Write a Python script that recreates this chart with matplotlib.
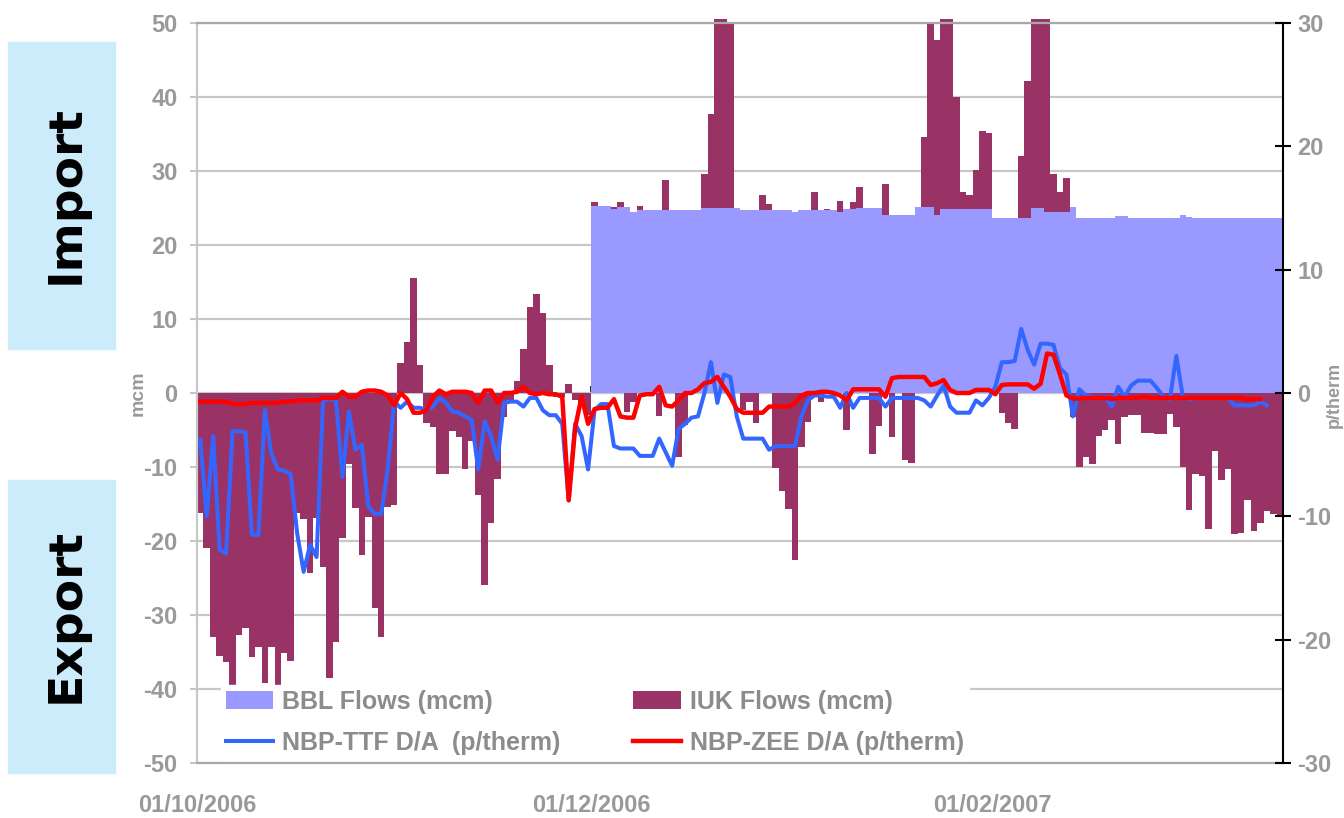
import numpy as np
import pandas as pd
import matplotlib
matplotlib.use("Agg")
import matplotlib.pyplot as plt
import matplotlib.dates as mdates
from matplotlib.patches import Rectangle

plt.rcParams['font.family'] = ['Liberation Sans', 'DejaVu Sans']
plt.rcParams['font.weight'] = 'bold'
plt.rcParams['axes.unicode_minus'] = False

# ---------------- data (daily, from 01/10/2006) ----------------
start_date = "2006-10-01"
bbl_start_date = "2006-12-01"

iuk_flows = [
    -16.2, -21.0, -33.0, -35.5, -36.3, -40.5, -32.7, -31.8, -35.7, -34.3,
    -39.2, -34.3, -39.7, -35.1, -36.2, -16.2, -17.0, -24.3, -16.9, -23.5,
    -38.5, -33.6, -19.6, -9.6, -15.5, -21.9, -16.7, -29.0, -33.0, -15.4,
    -15.1, 4.0, 6.9, 15.5, 3.8, -4.1, -4.6, -11.0, -11.0, -5.1,
    -5.9, -10.3, -6.5, -13.8, -25.9, -17.6, -11.6, -3.2, -1.0, 1.6,
    5.9, 11.6, 13.4, 10.8, 3.8, -0.5, -0.5, 1.2, -1.0, -1.5,
    -3.0, 25.8, 0.0, 0.0, 25.1, 25.8, -2.5, -1.2, 25.3, 0.0,
    0.0, -3.1, 28.8, 0.0, -8.6, -4.3, 0.0, 0.0, 29.6, 37.7,
    50.5, 50.5, 49.8, 25.0, -2.3, -1.2, -4.0, 26.7, 25.6, -10.2,
    -13.3, -15.7, -22.5, -7.3, -3.9, 27.1, -1.2, 24.9, 0.0, 25.9,
    -5.0, 25.8, 27.8, 0.0, -8.2, -4.5, 28.3, -5.9, 0.0, -9.0,
    -9.5, 25.1, 34.6, 50.2, 47.7, 50.5, 50.5, 40.0, 27.2, 26.8,
    30.2, 35.4, 35.2, 0.0, -2.7, -4.1, -4.8, 32.0, 42.2, 50.5,
    50.5, 50.5, 29.6, 27.1, 29.0, -3.2, -10.0, -8.7, -9.6, -5.8,
    -5.0, -3.6, -6.9, -3.2, -3.0, -3.0, -5.4, -5.4, -5.6, -5.6,
    -2.9, -4.6, -10.0, -15.8, -10.9, -11.2, -18.4, -7.9, -11.7, -10.3,
    -19.1, -18.9, -14.4, -18.7, -17.6, -16.0, -16.4, -16.5,
]

bbl_flows = [
    25.3, 25.3, 25.3, 24.8, 25.1, 25.1, 24.4, 24.7, 24.7, 24.7,
    24.7, 24.7, 24.7, 24.7, 24.7, 24.7, 24.7, 25.0, 25.0, 25.0,
    25.0, 25.0, 25.0, 24.7, 24.7, 24.7, 24.7, 24.7, 24.7, 24.7,
    24.7, 24.5, 24.7, 24.7, 24.7, 24.7, 24.7, 24.7, 24.4, 24.9,
    24.9, 25.0, 25.0, 25.0, 25.0, 24.1, 24.1, 24.1, 24.1, 24.1,
    25.1, 25.1, 25.1, 24.0, 24.9, 24.9, 24.9, 24.9, 24.9, 24.9,
    24.9, 24.9, 23.7, 23.7, 23.7, 23.7, 23.7, 23.7, 25.0, 25.0,
    24.5, 24.5, 24.5, 24.5, 25.1, 23.7, 23.7, 23.7, 23.7, 23.7,
    23.7, 23.9, 23.9, 23.7, 23.7, 23.7, 23.7, 23.7, 23.7, 23.7,
    23.7, 24.0, 23.8, 23.7, 23.7, 23.7, 23.7, 23.7, 23.7, 23.7,
    23.7, 23.7, 23.7, 23.7, 23.7, 23.7, 23.7,
]

ttf_spread = [
    -3.8, -10.0, -3.5, -12.7, -13.0, -3.1, -3.1, -3.2, -11.5, -11.5,
    -1.4, -4.9, -6.2, -6.3, -6.6, -11.4, -14.5, -12.3, -13.3, -0.6,
    -0.5, -0.6, -6.8, -1.5, -4.6, -4.2, -9.2, -9.8, -9.8, -6.2,
    -0.7, -1.2, -0.7, -1.2, -1.2, -1.4, -1.1, -0.4, -0.8, -1.5,
    -1.6, -1.9, -2.2, -6.2, -2.3, -3.5, -5.4, -0.8, -0.7, -0.7,
    -1.1, -0.4, -0.4, -1.4, -1.8, -1.8, -2.5, -8.7, -2.5, -3.5,
    -6.2, -1.4, -0.9, -0.9, -4.3, -4.5, -4.5, -4.5, -5.1, -5.1,
    -5.1, -3.7, -4.8, -5.9, -2.9, -2.5, -2.0, -1.9, 0.0, 2.5,
    -0.8, 1.5, 1.3, -1.9, -3.7, -3.7, -3.7, -3.7, -4.6, -4.3,
    -4.3, -4.3, -4.3, -1.9, -0.6, -0.2, -0.2, -0.3, -0.3, -1.2,
    0.0, -1.2, -0.4, -0.4, -0.4, -0.4, -1.1, -0.4, -0.4, -0.4,
    -0.4, -0.4, -0.6, -1.1, -0.2, 0.6, -1.1, -1.6, -1.6, -1.6,
    -0.6, -1.0, -0.4, 0.5, 2.5, 2.5, 2.6, 5.2, 3.5, 2.3,
    4.0, 4.0, 3.9, 2.0, 1.5, -1.9, 0.3, -0.2, -0.3, -0.4,
    -0.3, -1.1, 0.5, -0.3, 0.6, 1.0, 1.0, 1.0, 0.4, -0.3,
    -0.5, 3.0, -0.3, -0.5, -0.4, -0.4, -0.4, -0.4, -0.4, -0.4,
    -1.0, -1.0, -1.0, -1.0, -0.7, -1.0,
]

zee_spread = [
    -0.7, -0.7, -0.7, -0.7, -0.7, -0.9, -0.9, -0.9, -0.8, -0.8,
    -0.8, -0.8, -0.8, -0.7, -0.7, -0.6, -0.6, -0.6, -0.6, -0.4,
    -0.4, -0.4, 0.1, -0.3, -0.3, 0.1, 0.2, 0.2, 0.1, -0.2,
    -1.0, 0.0, -0.5, -1.6, -1.6, -1.4, -0.3, 0.2, -0.1, 0.1,
    0.1, 0.1, 0.0, -0.8, 0.2, 0.2, -0.8, 0.0, 0.0, 0.1,
    0.5, 0.0, -0.1, 0.0, -0.1, -0.1, -0.3, -8.7, -2.8, -0.3,
    -2.5, -1.3, -1.2, -1.2, -0.5, -1.9, -2.0, -2.0, -0.2, -0.1,
    -0.1, 0.5, -1.0, -1.1, -0.6, 0.0, 0.0, 0.3, 0.8, 0.9,
    1.3, 0.5, -0.3, -1.3, -1.6, -1.6, -1.6, -1.6, -1.1, -1.1,
    -1.1, -1.1, -0.8, -0.2, 0.0, 0.0, 0.1, 0.1, 0.0, -0.2,
    -0.6, 0.3, 0.3, 0.3, 0.3, 0.3, -0.3, 1.2, 1.3, 1.3,
    1.3, 1.3, 1.3, 0.65, 0.8, 1.05, 0.25, 0.0, 0.0, 0.0,
    0.25, 0.25, 0.25, -0.1, 0.65, 0.7, 0.7, 0.7, 0.7, 0.35,
    0.75, 3.2, 3.1, 1.5, -0.2, -0.45, -0.45, -0.4, -0.4, -0.4,
    -0.4, -0.5, -0.4, -0.4, -0.4, -0.4, -0.3, -0.4, -0.4, -0.4,
    -0.4, -0.4, -0.4, -0.4, -0.4, -0.4, -0.4, -0.4, -0.4, -0.4,
    -0.4, -0.4, -0.5, -0.5, -0.5,
]

x_tick_dates = ["2006-10-01", "2006-12-01", "2007-02-01"]
left_ticks = [-50, -40, -30, -20, -10, 0, 10, 20, 30, 40, 50]
right_ticks = [-30, -20, -10, 0, 10, 20, 30]

series_labels = ["BBL Flows (mcm)", "IUK Flows (mcm)",
                 "NBP-TTF D/A  (p/therm)", "NBP-ZEE D/A (p/therm)"]

# ---------------- styling ----------------
C_BBL = "#9999FF"
C_IUK = "#993366"
C_TTF = "#3366FF"
C_ZEE = "#FF0000"
C_TXT = "#999999"
C_GRID = "#C8C8C8"
C_BOX = "#CCEBFB"
TICK_FS = 17

W, H = 1344, 818
fig = plt.figure(figsize=(W / 100, H / 100), dpi=100)
fig.patch.set_facecolor("white")

# Import / Export side boxes
fig.add_artist(Rectangle((8 / W, 1 - 349 / H), 107 / W, 307 / H,
                         transform=fig.transFigure, color=C_BOX, zorder=0))
fig.add_artist(Rectangle((8 / W, 1 - 773 / H), 107 / W, 293 / H,
                         transform=fig.transFigure, color=C_BOX, zorder=0))
fig.text(66 / W, 1 - 195 / H, "Import", rotation=90, ha="center", va="center",
         fontsize=34, fontweight="bold", color="black", family="DejaVu Sans")
fig.text(66 / W, 1 - 615 / H, "Export", rotation=90, ha="center", va="center",
         fontsize=34, fontweight="bold", color="black", family="DejaVu Sans")

ax = fig.add_axes([197 / W, 1 - 763 / H, 1086 / W, 740 / H])
ax2 = ax.twinx()

d0 = pd.Timestamp(start_date)
iuk_dates = pd.date_range(d0, periods=len(iuk_flows), freq="D")
bbl_dates = pd.date_range(pd.Timestamp(bbl_start_date), periods=len(bbl_flows), freq="D")
half = pd.Timedelta(hours=12)
ttf_dates = pd.date_range(d0, periods=len(ttf_spread), freq="D") + half
zee_dates = pd.date_range(d0, periods=len(zee_spread), freq="D") + half

b_iuk = ax.bar(iuk_dates, iuk_flows, width=1.0, align="edge", color=C_IUK,
               linewidth=0, zorder=2, label=series_labels[1])
for p in b_iuk:
    p.set_clip_on(False)
b_bbl = ax.bar(bbl_dates, bbl_flows, width=1.0, align="edge", color=C_BBL,
               linewidth=0, zorder=3, label=series_labels[0])

ax.set_xlim(d0, d0 + pd.Timedelta(days=168))
ax.set_ylim(-50, 50)
ax.set_yticks(left_ticks)
ax.yaxis.grid(True, color=C_GRID, linewidth=1.6)
ax.set_axisbelow(True)

ax.spines["right"].set_visible(False)
ax.spines["top"].set_color("#A8A8A8")
ax.spines["top"].set_linewidth(1.6)
ax.spines["left"].set_color("#C8C8C8")
ax.spines["left"].set_linewidth(1.6)
ax.spines["bottom"].set_color("#A8A8A8")
ax.spines["bottom"].set_linewidth(1.6)

ax.tick_params(axis="y", length=5, width=1.2, color="#BBBBBB", labelcolor=C_TXT,
               labelsize=TICK_FS, pad=9)
ax.set_xticks(pd.to_datetime(x_tick_dates))
ax.xaxis.set_major_formatter(mdates.DateFormatter("%d/%m/%Y"))
ax.tick_params(axis="x", length=0, labelcolor=C_TXT, labelsize=TICK_FS, pad=22)
fig.text(138 / W, 1 - 393 / H, "mcm", rotation=90, ha="center", va="center",
         color=C_TXT, fontsize=14, fontweight="bold")

# zero-crossing category axis with tick marks
zax = ax.secondary_xaxis(0.5)
zax.set_xticks(pd.to_datetime(x_tick_dates))
zax.tick_params(axis="x", length=5, width=1.2, color="black", labelbottom=False,
                labeltop=False, direction="out")
zax.spines["bottom"].set_color("black")
zax.spines["bottom"].set_linewidth(1.3)
zax.spines["top"].set_visible(False)

# secondary axis lines
l_ttf, = ax2.plot(ttf_dates, ttf_spread, color=C_TTF, linewidth=2.9,
                  solid_joinstyle="round", zorder=5, label=series_labels[2])
l_zee, = ax2.plot(zee_dates, zee_spread, color=C_ZEE, linewidth=3.2,
                  solid_joinstyle="round", zorder=6, label=series_labels[3])
ax2.set_ylim(-30, 30)
ax2.set_yticks(right_ticks)
for s in ["top", "left", "bottom"]:
    ax2.spines[s].set_visible(False)
ax2.spines["right"].set_color("black")
ax2.spines["right"].set_linewidth(1.5)
ax2.tick_params(axis="y", direction="inout", length=11, width=1.5, color="black",
                labelcolor=C_TXT, labelsize=TICK_FS, pad=5)
fig.text(1334 / W, 1 - 395 / H, "p/therm", rotation=90, ha="center", va="center",
         color=C_TXT, fontsize=13, fontweight="bold")

leg = ax2.legend([b_bbl, l_ttf, b_iuk, l_zee],
                 [series_labels[0], series_labels[2], series_labels[1], series_labels[3]],
                 ncol=2, loc="lower left", bbox_to_anchor=(0.022, 0.004),
                 frameon=True, fancybox=False, facecolor="white", edgecolor="white",
                 framealpha=1.0, fontsize=18, handlelength=1.9, handleheight=0.7,
                 handletextpad=0.36, labelspacing=0.7, columnspacing=2.9,
                 borderpad=0.2, borderaxespad=0)
for t in leg.get_texts():
    t.set_color("#8C8C8C")
    t.set_fontweight("bold")
leg.set_zorder(10)

fig.savefig("out.png", dpi=100, facecolor="white")
